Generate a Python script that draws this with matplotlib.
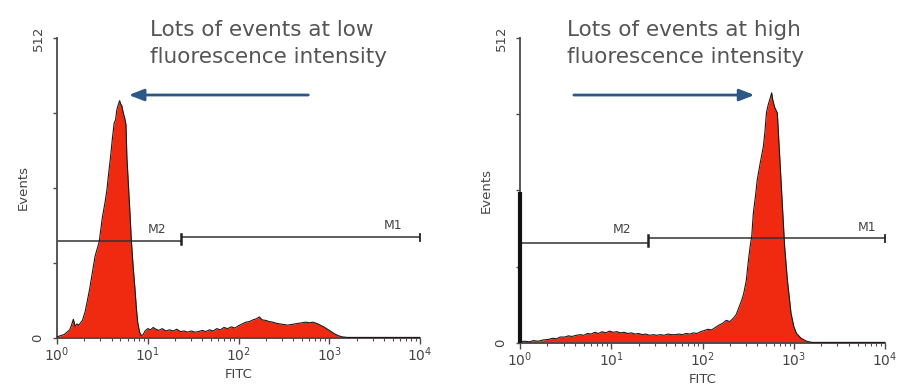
import numpy as np
import matplotlib
matplotlib.use("Agg")
import matplotlib.pyplot as plt
from matplotlib.ticker import FixedLocator, FixedFormatter, LogLocator, NullFormatter

# ---------------- data ----------------
left_log_fitc = [0.00, 0.04, 0.08, 0.11, 0.14, 0.16, 0.18, 0.20, 0.22, 0.24, 0.26, 0.28,
                 0.31, 0.34, 0.36, 0.39, 0.42, 0.465, 0.50, 0.53, 0.55, 0.57, 0.59, 0.61,
                 0.63, 0.645, 0.66, 0.675, 0.69, 0.70, 0.715, 0.73, 0.745, 0.76, 0.77,
                 0.79, 0.805, 0.82, 0.84, 0.86, 0.875, 0.89, 0.91, 0.93, 0.95, 0.97,
                 1.00, 1.03, 1.06, 1.09, 1.12, 1.16, 1.20, 1.24, 1.28, 1.32, 1.36, 1.40,
                 1.44, 1.48, 1.52, 1.56, 1.60, 1.64, 1.68, 1.72, 1.76, 1.80, 1.84, 1.88,
                 1.92, 1.96, 2.00, 2.04, 2.08, 2.12, 2.16, 2.20, 2.23, 2.26, 2.30, 2.34,
                 2.38, 2.42, 2.46, 2.50, 2.54, 2.58, 2.62, 2.66, 2.70, 2.74, 2.78, 2.82,
                 2.86, 2.90, 2.94, 2.98, 3.02, 3.06, 3.10, 3.14, 3.20, 3.40, 3.60, 3.80, 4.00]
left_counts = [2, 4, 6, 10, 14, 22, 32, 20, 24, 22, 26, 30,
               45, 68, 84, 112, 140, 164, 206, 232, 253, 282, 309, 340,
               367, 372, 390, 398, 405, 400, 396, 384, 376, 364, 309,
               253, 210, 164, 120, 82, 50, 26, 10, 4, 6, 12,
               16, 14, 18, 15, 13, 16, 12, 14, 12, 15, 11, 12,
               10, 12, 10, 11, 13, 11, 14, 12, 16, 14, 18, 16,
               19, 17, 21, 24, 27, 28, 31, 33, 36, 31, 30, 28,
               27, 25, 24, 23, 22, 23, 24, 25, 26, 27, 26, 27,
               25, 22, 19, 15, 11, 7, 4, 2, 1, 1, 1, 1, 1]

right_log_fitc = [0.00, 0.05, 0.10, 0.15, 0.20, 0.25, 0.31, 0.36, 0.40, 0.44, 0.49, 0.53,
                  0.57, 0.62, 0.66, 0.70, 0.74, 0.78, 0.82, 0.86, 0.90, 0.94, 0.98, 1.02,
                  1.06, 1.10, 1.14, 1.18, 1.22, 1.26, 1.30, 1.34, 1.38, 1.42, 1.46, 1.50,
                  1.54, 1.58, 1.62, 1.66, 1.70, 1.74, 1.78, 1.82, 1.86, 1.90, 1.94, 1.98,
                  2.02, 2.06, 2.10, 2.14, 2.18, 2.22, 2.26, 2.30, 2.34, 2.37, 2.40, 2.43,
                  2.45, 2.48, 2.50, 2.52, 2.54, 2.557, 2.58, 2.60, 2.63, 2.667, 2.685,
                  2.70, 2.72, 2.74, 2.758, 2.77, 2.79, 2.82, 2.84, 2.86, 2.88, 2.90, 2.93,
                  2.97, 3.00, 3.03, 3.08, 3.14, 3.20, 3.40, 3.60, 3.80, 4.00]
right_counts = [2, 3, 2, 4, 3, 5, 6, 8, 7, 10, 10, 12,
                11, 13, 14, 13, 16, 15, 18, 16, 19, 17, 20, 18,
                19, 17, 18, 16, 17, 15, 16, 14, 15, 13, 14, 13,
                14, 13, 15, 14, 14, 15, 14, 16, 15, 17, 16, 19,
                21, 23, 22, 26, 30, 33, 38, 36, 42, 48, 60, 72,
                82, 105, 134, 160, 180, 218, 246, 274, 300, 330, 356,
                386, 400, 410, 420, 408, 396, 386, 330, 274, 218, 162, 106,
                50, 28, 16, 8, 3, 1, 1, 1, 1, 1]
right_first_channel = 254          # spike in the first channel (right panel)

# gates: (low, high, y-level)
left_m2 = (1, 23, 166)
left_m1 = (23, 1e4, 172)
right_m2 = (1, 25, 168)
right_m1 = (25, 1e4, 176)

title_lines = [["Lots of events at low", "fluorescence intensity"],
               ["Lots of events at high", "fluorescence intensity"]]
x_tick_vals = [1, 10, 100, 1000, 10000]
x_tick_labels = [r"$\mathregular{10^{0}}$", r"$\mathregular{10^{1}}$", r"$\mathregular{10^{2}}$",
                 r"$\mathregular{10^{3}}$", r"$\mathregular{10^{4}}$"]
y_tick_vals = [0, 128, 256, 384, 512]
y_tick_labels = ["0", "", "", "", "512"]

# ---------------- drawing ----------------
plt.rcParams['font.family'] = ['DejaVu Sans']
W, H = 909, 385
fig = plt.figure(figsize=(W / 100, H / 100), dpi=100)

RED = "#f02a10"
AX = "#4a4a4a"
TXT = "#444444"
BLUE = "#2c5887"

def px_axes(x0, x1, ytop, ybot):
    return fig.add_axes([x0 / W, 1 - ybot / H, (x1 - x0) / W, (ybot - ytop) / H])

def setup(ax):
    ax.set_xscale('log')
    ax.set_xlim(1, 1e4)
    ax.set_ylim(0, 512)
    for s in ['top', 'right']:
        ax.spines[s].set_visible(False)
    for s in ['left', 'bottom']:
        ax.spines[s].set_color(AX)
        ax.spines[s].set_linewidth(1.3)
    ax.xaxis.set_major_locator(FixedLocator(x_tick_vals))
    ax.xaxis.set_major_formatter(FixedFormatter(x_tick_labels))
    ax.xaxis.set_minor_locator(LogLocator(base=10, subs=np.arange(2, 10)))
    ax.xaxis.set_minor_formatter(NullFormatter())
    ax.yaxis.set_major_locator(FixedLocator(y_tick_vals))
    ax.yaxis.set_major_formatter(FixedFormatter(y_tick_labels))
    ax.tick_params(axis='x', which='major', length=4, width=1, color=AX,
                   labelsize=10, labelcolor=TXT, pad=1)
    ax.tick_params(axis='x', which='minor', length=2, width=0.8, color=AX)
    ax.tick_params(axis='y', which='major', length=3, width=1, color=AX,
                   labelsize=9.5, labelcolor=TXT, pad=6, labelrotation=90)
    for lab in ax.get_yticklabels():
        lab.set_verticalalignment('center')
    ax.set_ylabel("Events", fontsize=9.5, color=TXT, labelpad=1)
    ax.set_xlabel("FITC", fontsize=9.5, color=TXT, labelpad=3)

def gates(ax, m2, m1):
    ax.plot([m2[0], m2[1]], [m2[2], m2[2]], color="#333333", lw=1.1, solid_capstyle='butt')
    ax.plot([m1[0], m1[1]], [m1[2], m1[2]], color="#333333", lw=1.1, solid_capstyle='butt')
    ax.plot([m2[1], m2[1]], [m2[2] - 6, m1[2] + 6], color="#222222", lw=1.8)
    ax.plot([m1[1], m1[1]], [m1[2] - 6, m1[2] + 6], color="#222222", lw=1.3, clip_on=False)

# left panel
axL = px_axes(57, 420, 38, 338)
setup(axL)
xl = 10 ** np.array(left_log_fitc)
axL.fill_between(xl, left_counts, 0, color=RED, lw=0, zorder=2)
axL.plot(xl, left_counts, color="#1a1a1a", lw=0.8, zorder=3)
gates(axL, left_m2, left_m1)
axL.text(10 ** 1.10, left_m2[2] + 20, "M2", fontsize=9, color=TXT, ha='center', va='center')
axL.text(10 ** 3.70, left_m1[2] + 20, "M1", fontsize=9, color=TXT, ha='center', va='center')
axL.annotate("", xy=(0.19, 0.81), xytext=(0.70, 0.81), xycoords='axes fraction',
             arrowprops=dict(arrowstyle='-|>,head_length=0.9,head_width=0.35',
                             color=BLUE, lw=2))

# right panel
axR = px_axes(520, 885, 38, 343)
setup(axR)
xr = 10 ** np.array(right_log_fitc)
axR.fill_between(xr, right_counts, 0, color=RED, lw=0, zorder=2)
axR.plot(xr, right_counts, color="#1a1a1a", lw=0.8, zorder=3)
axR.vlines(1, 0, right_first_channel, color="#111111", lw=3, zorder=4, clip_on=False)
gates(axR, right_m2, right_m1)
axR.text(10 ** 1.12, right_m2[2] + 22, "M2", fontsize=9, color=TXT, ha='center', va='center')
axR.text(10 ** 3.80, right_m1[2] + 18, "M1", fontsize=9, color=TXT, ha='center', va='center')
axR.annotate("", xy=(0.65, 0.813), xytext=(0.14, 0.813), xycoords='axes fraction',
             arrowprops=dict(arrowstyle='-|>,head_length=0.9,head_width=0.35',
                             color=BLUE, lw=2))

# titles (two lines each)
for (x0, lines) in [(150, title_lines[0]), (567, title_lines[1])]:
    for yb, line in zip([36, 63], lines):
        fig.text(x0 / W, 1 - yb / H, line, fontsize=15.5, color="#555555",
                 va='baseline', ha='left')

fig.savefig("out.png", dpi=100)
